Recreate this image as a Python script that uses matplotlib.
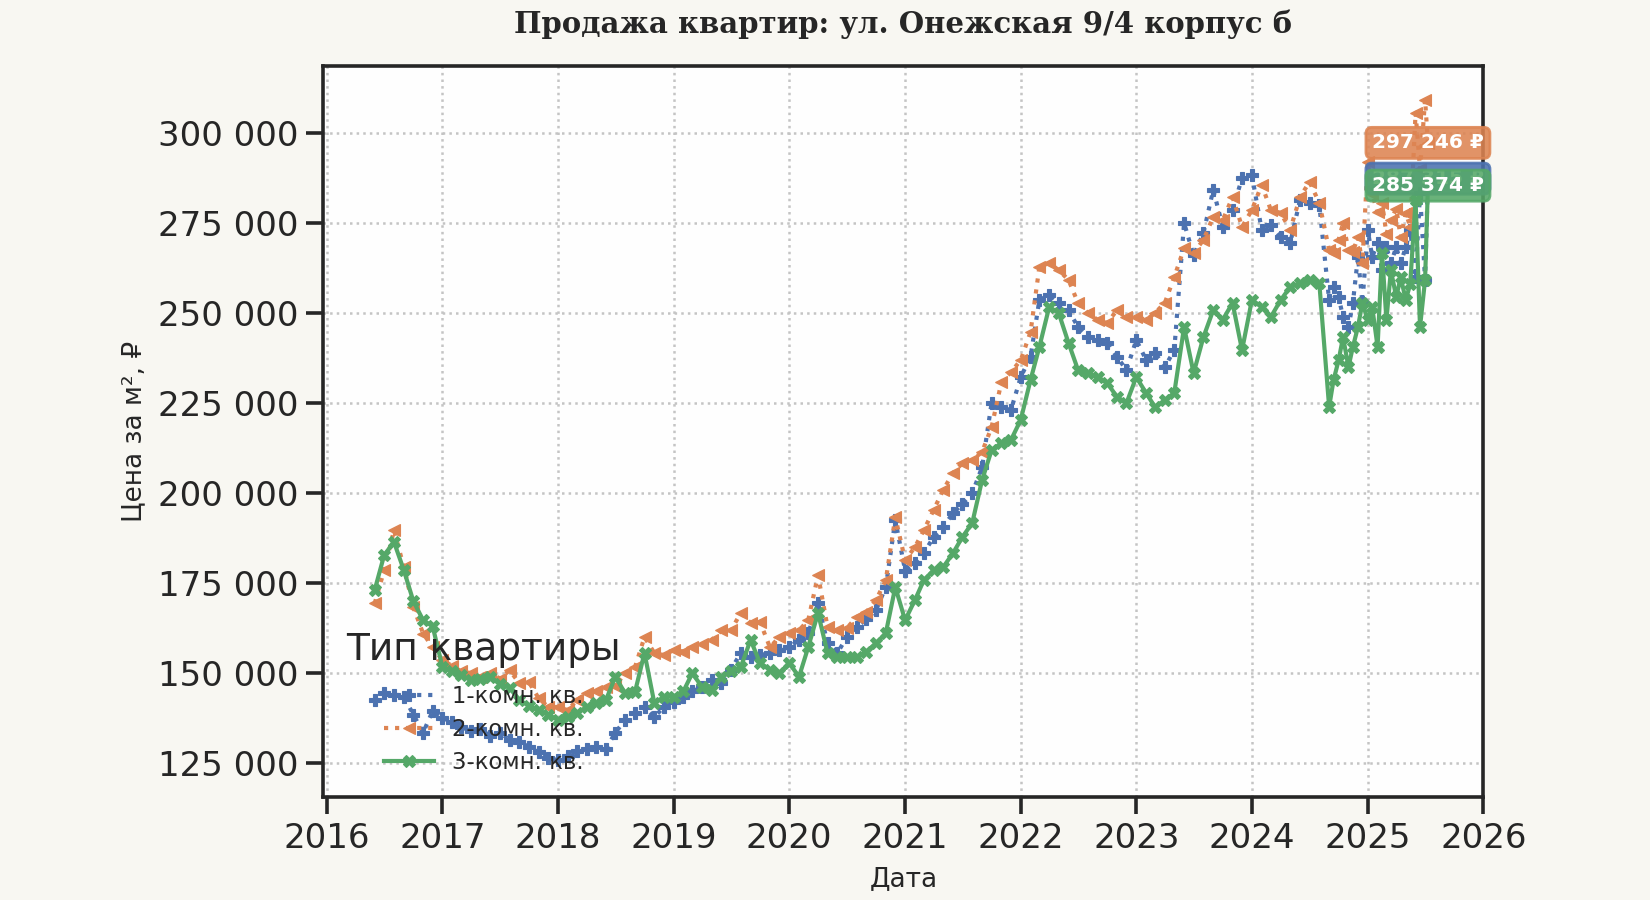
import numpy as np
import pandas as pd
import matplotlib
matplotlib.use("Agg")
import matplotlib.pyplot as plt
import matplotlib.dates as mdates
from matplotlib.ticker import FuncFormatter

plt.rcParams['font.family'] = ['DejaVu Sans']

# ---------------- data ----------------
dates_monthly = pd.date_range('2016-06-01', '2024-08-01', freq='MS')
dates_semi = pd.date_range('2024-09-01', '2025-07-01', freq='SMS')
dates_last = pd.to_datetime(['2025-07-10'])
dates = dates_monthly.append(dates_semi).append(dates_last)

labels = ['1-комн. кв.', '2-комн. кв.', '3-комн. кв.']

room1 = [
    142.5, 144.4, 144.0, 143.4, 138.5, 133.5, 139.5,
    137.5, 136.5, 135.0, 134.0, 134.5, 132.5, 133.5, 131.5, 131.0, 129.5, 128.0, 126.5,
    125.8, 127.0, 128.5, 129.0, 129.5, 129.0, 133.5, 137.0, 139.0, 140.6, 137.8, 140.6,
    142.0, 143.4, 145.0, 146.1, 148.0, 147.2, 151.0, 155.6, 154.4, 155.0, 155.6, 156.4,
    157.2, 159.2, 161.1, 169.4, 158.3, 155.6, 160.0, 162.8, 165.0, 167.5, 173.9, 192.5,
    178.5, 180.5, 183.3, 187.8, 190.6, 194.4, 197.0, 200.0, 207.2, 225.0, 223.9, 223.0,
    232.2, 237.8, 253.6, 255.0, 252.8, 250.8, 246.1, 243.3, 242.5, 241.7, 237.8, 234.2,
    242.5, 237.0, 238.9, 235.0, 239.7, 275.0, 266.0, 272.2, 284.2, 274.0, 278.6, 287.5,
    288.3, 273.1, 274.5, 271.1, 269.4, 281.4, 280.6, 280.0,
    253.6, 257.2, 254.4, 248.9, 246.1, 252.8, 265.6, 252.8,
    273.1, 265.6, 269.4, 261.9, 268.3, 263.9, 268.3, 263.9, 268.3, 273.1, 260.0, 283.3, 259.2,
    287.315,
]

room2 = [
    169.4, 178.6, 189.7, 179.4, 168.3, 161.0, 157.2,
    153.6, 152.0, 150.5, 150.0, 149.0, 150.0, 148.5, 150.8, 147.2, 147.5, 143.0, 140.6,
    140.6, 139.7, 142.5, 144.4, 145.0, 146.1, 146.5, 150.0, 151.7, 160.0, 155.6, 155.0,
    156.4, 156.0, 157.2, 158.0, 159.2, 161.9, 161.9, 166.7, 163.9, 164.2, 157.2, 160.0,
    161.1, 161.9, 164.7, 177.2, 162.8, 161.9, 162.5, 165.6, 167.0, 170.3, 175.8, 193.3,
    181.4, 185.0, 189.7, 195.3, 200.8, 205.6, 208.3, 209.2, 211.4, 218.3, 230.8, 233.6,
    236.9, 244.7, 262.8, 263.9, 261.9, 259.2, 252.8, 250.0, 248.1, 247.2, 250.8, 248.9,
    249.0, 248.1, 250.0, 252.8, 260.0, 268.0, 266.7, 270.3, 276.7, 275.8, 282.2, 273.9,
    278.6, 285.6, 278.6, 277.8, 273.1, 282.2, 286.4, 280.6,
    267.5, 266.7, 270.3, 275.0, 267.5, 267.0, 271.1, 263.9,
    292.0, 283.0, 278.0, 280.6, 272.0, 275.8, 279.0, 271.0, 277.8, 274.0, 305.6, 290.0, 309.2,
    297.246,
]

room3 = [
    173.1, 182.8, 186.4, 178.6, 170.0, 164.7, 163.0,
    151.7, 150.5, 149.5, 148.0, 148.5, 149.0, 147.0, 146.0, 142.5, 141.0, 139.7, 138.5,
    137.0, 137.8, 138.9, 140.6, 141.7, 142.5, 149.0, 144.4, 144.8, 155.6, 141.7, 143.4,
    143.5, 145.0, 150.0, 146.1, 145.3, 148.9, 150.5, 151.7, 159.2, 152.8, 151.0, 150.0,
    152.8, 149.0, 157.2, 166.7, 155.6, 154.4, 154.4, 154.4, 156.0, 158.3, 161.1, 173.9,
    164.7, 170.3, 175.8, 178.6, 179.4, 183.3, 187.8, 191.7, 203.6, 211.9, 213.9, 214.7,
    220.3, 231.4, 240.6, 251.7, 250.0, 241.7, 234.2, 233.3, 232.2, 230.6, 226.7, 225.0,
    232.2, 227.8, 223.9, 225.8, 227.8, 246.1, 233.3, 243.3, 250.8, 248.1, 252.8, 239.7,
    253.6, 251.7, 248.9, 253.6, 257.2, 258.3, 259.2, 258.3,
    223.9, 231.4, 236.9, 243.3, 235.0, 240.6, 246.1, 252.8,
    248.1, 251.7, 240.6, 266.7, 248.1, 261.9, 254.4, 260.0, 253.6, 258.0, 281.4, 246.1, 259.2,
    285.374,
]

series = [np.array(room1) * 1000, np.array(room2) * 1000, np.array(room3) * 1000]

# ---------------- style ----------------
colors = ['#4c72b0', '#dd8452', '#55a868']
markers = ['P', '<', 'X']
linestyles = [':', ':', '-']
txt = '#262626'

fig = plt.figure(figsize=(16.5, 9), dpi=100, facecolor='#f8f7f2')
ax = fig.add_axes([0.196, 0.1144, 0.703, 0.8123])
ax.set_facecolor('#fefefe')

for vals, lab, c, m, ls in zip(series, labels, colors, markers, linestyles):
    ax.plot(dates, vals, color=c, linestyle=ls, linewidth=3.0, marker=m,
            markersize=8, markeredgewidth=0.8, markeredgecolor=c, label=lab)

# end labels
for vals, c in zip(series, colors):
    v = vals[-1]
    s = f"{v:,.0f}".replace(",", " ") + " ₽"
    ax.text(dates[-1], v, s, ha='center', va='center', fontsize=14.5,
            fontweight='bold', color='white', clip_on=False, zorder=10,
            bbox=dict(boxstyle='round,pad=0.3', facecolor=c, edgecolor=c,
                      alpha=0.88, linewidth=2))

ax.set_xlim(pd.Timestamp('2015-12-22'), pd.Timestamp('2026-01-01'))
ax.set_ylim(115600, 318600)
ax.set_yticks([125000, 150000, 175000, 200000, 225000, 250000, 275000, 300000])
ax.yaxis.set_major_formatter(FuncFormatter(lambda v, p: f"{int(v):,}".replace(",", " ")))
ax.xaxis.set_major_locator(mdates.YearLocator())
ax.xaxis.set_major_formatter(mdates.DateFormatter('%Y'))

ax.grid(True, linestyle=':', color='#c4c4c4', linewidth=1.8)
ax.set_axisbelow(True)
for sp in ax.spines.values():
    sp.set_linewidth(2.6)
    sp.set_color(txt)
ax.tick_params(axis='both', which='major', labelsize=24.5, colors=txt,
               length=12, width=2.6, pad=6)

ax.set_xlabel('Дата', fontsize=19, color=txt, labelpad=8)
ax.set_ylabel('Цена за м², ₽', fontsize=19, color=txt, labelpad=8)
ax.set_title('Продажа квартир: ул. Онежская 9/4 корпус б', fontsize=21,
             fontweight='bold', family='DejaVu Serif', color=txt, pad=24)

leg = ax.legend(title='Тип квартиры', loc='lower left', frameon=False,
                fontsize=16.4, title_fontsize=27, handlelength=2.2,
                borderaxespad=0.6, labelspacing=0.45)
leg._legend_box.sep = 12
for t in leg.get_texts():
    t.set_color(txt)
leg.get_title().set_color(txt)

fig.savefig('out.png', dpi=100, facecolor=fig.get_facecolor())
